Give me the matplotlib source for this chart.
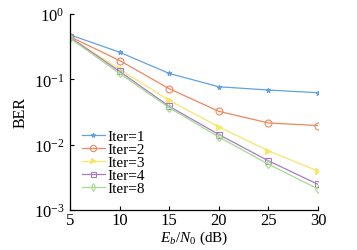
import numpy as np
import matplotlib
matplotlib.use('Agg')
import matplotlib.pyplot as plt

plt.rcParams['font.family'] = ['Liberation Serif', 'DejaVu Serif']
plt.rcParams['mathtext.fontset'] = 'custom'
plt.rcParams['mathtext.rm'] = 'Liberation Serif'
plt.rcParams['mathtext.it'] = 'Liberation Serif:italic'

ebn0 = [5, 10, 15, 20, 25, 30]
ber_iter1 = [0.48, 0.26, 0.123, 0.077, 0.0686, 0.0624]
ber_iter2 = [0.45, 0.194, 0.0718, 0.0324, 0.0215, 0.0196]
ber_iter3 = [0.44, 0.1416, 0.0477, 0.0187, 0.00804, 0.00394]
ber_iter4 = [0.44, 0.132, 0.0386, 0.0143, 0.00566, 0.00247]
ber_iter8 = [0.425, 0.123, 0.0368, 0.0131, 0.00503, 0.0021]
labels = ['Iter=1', 'Iter=2', 'Iter=3', 'Iter=4', 'Iter=8']

series = [ber_iter1, ber_iter2, ber_iter3, ber_iter4, ber_iter8]
colors = ['#62a2e0', '#f08660', '#f6e66a', '#a67cc6', '#a6da92']
markers = ['*', 'o', '>', 's', 'd']
msizes = [3.5, 5, 4, 4, 4.5]

fig = plt.figure(figsize=(3.57, 2.51), dpi=100)
ax = fig.add_axes([70/357, 1 - 211/251, 248/357, 196/251])

for y, c, m, ms, lab in zip(series, colors, markers, msizes, labels):
    ax.semilogy(ebn0, y, color=c, marker=m, markersize=ms,
                markerfacecolor=c if m in ('*', '>') else 'none',
                markeredgewidth=0.8, linewidth=0.9, label=lab)

ax.set_xlim(5, 30)
ax.set_ylim(1e-3, 1)
ax.set_xticks([5, 10, 15, 20, 25, 30])
ax.set_yticks([1e-3, 1e-2, 1e-1, 1])
ax.yaxis.set_minor_locator(matplotlib.ticker.NullLocator())
ax.tick_params(direction='in', labelsize=12, length=3, width=0.8, pad=4)
ax.tick_params(axis='x', pad=1.5)
for s in ['top', 'right']:
    ax.spines[s].set_visible(False)
for s in ['left', 'bottom']:
    ax.spines[s].set_linewidth(0.9)

ax.set_xlabel(r'$E_b/N_0$ (dB)', fontsize=11, labelpad=0.5)
ax.set_ylabel('BER', fontsize=11.5, labelpad=4)

ax.legend(loc='lower left', frameon=False, fontsize=11, handlelength=1.55,
          handletextpad=0.15, labelspacing=-0.05, borderaxespad=0.2,
          bbox_to_anchor=(0.01, 0.03), markerscale=0.9)

fig.savefig('out.png', dpi=100)
